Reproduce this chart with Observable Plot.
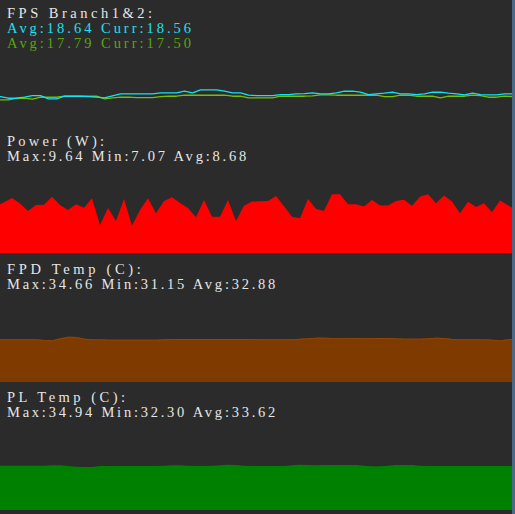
<!DOCTYPE html>
<html>
<head>
<meta charset="utf-8">
<script src="https://cdn.jsdelivr.net/npm/d3@7"></script>
<script src="https://cdn.jsdelivr.net/npm/@observablehq/plot@0.6"></script>
<style>
  html, body { margin: 0; padding: 0; background: #2b2b2b; }
  #wrap { width: 512px; height: 514px; border-right: 3px solid #4a6888; background: #2b2b2b; overflow: hidden; }
  .panel { position: relative; width: 512px; height: 128px; overflow: hidden; }
  .title { height: 50px; box-sizing: border-box; padding: 6px 0 0 7px; font-family: "Liberation Serif", serif; font-size: 14.5px; line-height: 15px; color: #e6e6e6; white-space: pre; }
  .chart { height: 78px; overflow: hidden; }
  .chart svg { display: block; }
</style>
</head>
<body>
<div id="wrap"></div>
<script>
// FPS series (sampled across the window)
const fpsBranch1 = [17.48, 16.81, 16.81, 17.21, 17.88, 17.88, 16.55, 16.55, 17.61, 17.61, 17.61, 17.48, 17.21, 16.95, 17.75, 18.55, 18.55, 18.55, 18.55, 18.55, 18.95, 18.95, 18.95, 19.61, 18.95, 20.15, 20.15, 20.15, 19.61, 18.95, 18.95, 18.01, 17.88, 17.88, 17.88, 18.28, 18.28, 18.55, 18.68, 18.95, 18.55, 18.55, 18.95, 19.61, 19.61, 19.21, 18.28, 18.55, 18.81, 19.21, 18.55, 18.55, 18.28, 18.55, 19.21, 19.21, 18.81, 18.55, 18.15, 18.81, 18.28, 18.15, 18.15, 18.55, 18.56];
const fpsBranch2 = [16.15, 16.15, 16.81, 16.81, 16.41, 17.21, 17.21, 17.21, 17.61, 17.61, 17.61, 17.61, 17.61, 16.55, 16.95, 17.21, 17.21, 17.08, 17.08, 17.08, 17.48, 17.61, 17.61, 18.01, 18.01, 18.01, 18.01, 18.01, 18.01, 17.61, 17.61, 16.95, 16.95, 16.95, 16.95, 17.61, 17.61, 17.61, 17.61, 17.75, 18.15, 18.15, 18.01, 18.01, 18.01, 18.01, 18.01, 18.01, 17.48, 17.48, 18.01, 18.01, 17.61, 17.61, 17.61, 16.95, 17.61, 17.61, 17.61, 18.01, 17.88, 17.21, 17.21, 17.61, 17.50];
// Power (W)
const power = [8.68, 8.99, 9.33, 8.88, 8.27, 8.76, 8.79, 9.44, 8.76, 8.35, 8.82, 8.54, 9.31, 7.13, 8.52, 7.45, 9.26, 7.07, 8.35, 9.31, 8.08, 9.09, 9.40, 8.93, 8.52, 7.76, 9.17, 7.81, 7.81, 9.17, 7.45, 8.71, 9.05, 9.07, 9.09, 9.50, 8.66, 7.81, 7.67, 9.26, 8.44, 8.27, 9.64, 9.64, 8.82, 8.82, 8.64, 9.17, 8.72, 8.72, 9.09, 9.19, 8.71, 9.44, 9.64, 8.91, 9.54, 9.05, 8.08, 9.03, 8.60, 8.90, 8.17, 9.13, 8.74, 8.35];
// FPD temperature (C)
const fpdTemp = [32.71, 32.71, 32.71, 32.71, 32.71, 32.71, 32.38, 32.21, 33.21, 34.05, 33.88, 33.05, 32.71, 32.71, 32.55, 32.55, 32.55, 32.55, 32.55, 32.55, 32.55, 32.71, 32.88, 32.88, 32.88, 32.88, 32.88, 32.88, 32.88, 32.88, 32.88, 32.88, 32.88, 32.71, 32.71, 32.71, 32.71, 32.71, 33.05, 33.21, 33.55, 33.55, 33.38, 33.21, 33.38, 33.38, 33.21, 33.38, 33.38, 33.38, 33.21, 33.05, 33.05, 33.05, 33.21, 33.55, 33.38, 32.88, 32.71, 32.71, 32.71, 32.71, 32.55, 32.21, 32.71, 33.21];
// PL temperature (C)
const plTemp = [33.64, 33.64, 33.64, 33.64, 33.64, 33.64, 33.64, 33.80, 33.80, 33.47, 33.14, 32.97, 32.97, 33.47, 33.47, 33.47, 33.47, 33.47, 33.47, 33.47, 33.47, 33.64, 33.80, 33.80, 33.64, 33.47, 33.47, 33.64, 33.80, 34.14, 33.97, 33.64, 33.47, 33.47, 33.47, 33.47, 33.47, 33.80, 34.14, 33.97, 33.80, 33.97, 33.97, 33.97, 33.97, 33.97, 33.64, 33.30, 33.30, 33.64, 33.97, 33.97, 33.97, 33.64, 33.47, 33.47, 33.47, 33.47, 33.47, 33.47, 33.47, 33.47, 33.47, 33.47, 33.47, 33.47];

// Panel titles / stats
const panelTitles = ["FPS Branch1&2:", "Power (W):", "FPD Temp (C):", "PL Temp (C):"];
const fpsStats = ["Avg:18.64 Curr:18.56", "Avg:17.79 Curr:17.50"];
const powerStats = "Max:9.64 Min:7.07 Avg:8.68";
const fpdStats = "Max:34.66 Min:31.15 Avg:32.88";
const plStats = "Max:34.94 Min:32.30 Avg:33.62";

const wrap = document.getElementById("wrap");
const ctx = document.createElement("canvas").getContext("2d");
ctx.font = "14.5px 'Liberation Serif'";

// lines: [text, color, displayed width in px]
function makePanel(lines) {
  const p = document.createElement("div");
  p.className = "panel";
  const t = document.createElement("div");
  t.className = "title";
  lines.forEach(([txt, col, w]) => {
    const d = document.createElement("div");
    d.textContent = txt;
    if (col) d.style.color = col;
    const nat = ctx.measureText(txt).width;
    d.style.letterSpacing = ((w - nat) / (txt.length - 1)).toFixed(2) + "px";
    t.appendChild(d);
  });
  p.appendChild(t);
  const c = document.createElement("div");
  c.className = "chart";
  p.appendChild(c);
  wrap.appendChild(p);
  return c;
}

const base = {width: 512, height: 78, marginTop: 0, marginLeft: 0, marginRight: 0, style: {background: "transparent"}};

// Panel 1: FPS lines
{
  const c = makePanel([[panelTitles[0], null, 145], [fpsStats[0], "#1ee0ef", 184], [fpsStats[1], "#58a60c", 184]]);
  const d1 = fpsBranch1.map((v, i) => ({i, v}));
  const d2 = fpsBranch2.map((v, i) => ({i, v}));
  c.appendChild(Plot.plot({
    ...base, marginBottom: 0,
    x: {domain: [0, fpsBranch1.length - 1], axis: null},
    y: {domain: [4.7, 35.9], axis: null},
    marks: [
      Plot.line(d2, {x: "i", y: "v", stroke: "#74bf00", strokeWidth: 1.3}),
      Plot.line(d1, {x: "i", y: "v", stroke: "#10e4f4", strokeWidth: 1.3})
    ]
  }));
}

function areaPanel(lines, values, domain, fill, mb, edge) {
  const c = makePanel(lines);
  const d = values.map((v, i) => ({i, v}));
  const marks = [Plot.areaY(d, {x: "i", y1: domain[0], y2: "v", fill})];
  if (edge) marks.push(Plot.line(d, {x: "i", y: "v", stroke: edge, strokeWidth: 1}));
  c.appendChild(Plot.plot({
    ...base, marginBottom: mb,
    x: {domain: [0.5, values.length - 1.5], axis: null},
    y: {domain, axis: null},
    marks
  }));
}

areaPanel([[panelTitles[1], null, 97], [powerStats, null, 240]], power, [4.83, 10.98], "#ff0000", 3, null);
areaPanel([[panelTitles[2], null, 134], [fpdStats, null, 269]], fpdTemp, [11.38, 49.38], "#7f3a00", 2, "#8f4606");
areaPanel([[panelTitles[3], null, 119], [plStats, null, 269]], plTemp, [11.47, 49.47], "#008000", 2, null);
</script>
</body>
</html>
